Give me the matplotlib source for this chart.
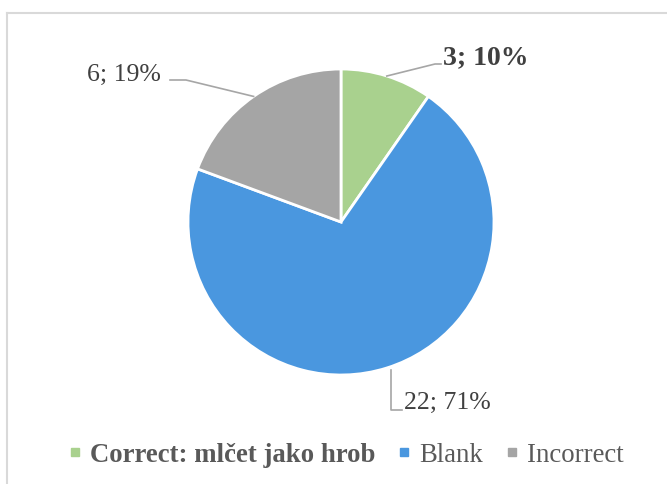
import numpy as np
import matplotlib
matplotlib.use("Agg")
import matplotlib.pyplot as plt
from matplotlib.lines import Line2D

categories = ["Correct: mlčet jako hrob", "Blank", "Incorrect"]
values = [3, 22, 6]
colors = ["#A9D18E", "#4A97DF", "#A5A5A5"]

W, H = 667, 484
fig = plt.figure(figsize=(W / 100, H / 100), dpi=100)
ax = fig.add_axes([0, 0, 1, 1])

plt.rcParams["font.family"] = ["Liberation Serif", "DejaVu Serif"]

cx, cy, R = 341, H - 222, 153
wedges, _ = ax.pie(values, colors=colors, startangle=90, counterclock=False,
                   center=(cx, cy), radius=R, frame=True,
                   wedgeprops=dict(edgecolor="white", linewidth=2))
ax.set_xlim(0, W)
ax.set_ylim(0, H)
ax.set_aspect("equal")
ax.axis("off")

total = sum(values)
labels = [f"{v}; {round(100 * v / total)}%" for v in values]

def edge_point(w):
    ang = np.deg2rad((w.theta1 + w.theta2) / 2)
    return cx + R * np.cos(ang), cy + R * np.sin(ang)

lc = "#A6A6A6"
tc = "#404040"
fs = 18.5

# Correct (green)
x0, y0 = edge_point(wedges[0])
pts = [(x0, y0), (435, H - 64), (441, H - 64)]
ax.plot(*zip(*pts), color=lc, lw=1.2)
ax.text(443, H - 58, labels[0], fontsize=20, fontweight="bold", color=tc,
        ha="left", va="center")

# Blank (blue)
pts = [(391, H - 370), (391, H - 410), (402, H - 410)]
ax.plot(*zip(*pts), color=lc, lw=1.2)
ax.text(404, H - 403, labels[1], fontsize=fs, color=tc, ha="left", va="center")

# Incorrect (gray)
x2, y2 = edge_point(wedges[2])
pts = [(x2, y2), (186, H - 80), (170, H - 80)]
ax.plot(*zip(*pts), color=lc, lw=1.2)
ax.text(161, H - 75, labels[2], fontsize=fs, color=tc, ha="right", va="center")

# border (top and left)
ax.plot([6.5, W], [H - 12.5, H - 12.5], color="#D9D9D9", lw=1.5, clip_on=False)
ax.plot([6.5, 6.5], [0, H - 12.5], color="#D9D9D9", lw=1.5, clip_on=False)

handles = [Line2D([], [], ls="none", marker="s", markersize=6, markerfacecolor=c,
                  markeredgecolor=c) for c in colors]
leg = ax.legend(handles, categories, loc="center", bbox_to_anchor=(346 / W, 1 - 455 / H),
                ncol=3, frameon=False, fontsize=19.3, handlelength=0.5,
                handletextpad=0.3, columnspacing=0.85, borderaxespad=0)
for i, t in enumerate(leg.get_texts()):
    t.set_color("#595959")
    if i == 0:
        t.set_fontweight("bold")

fig.savefig("out.png", dpi=100)
